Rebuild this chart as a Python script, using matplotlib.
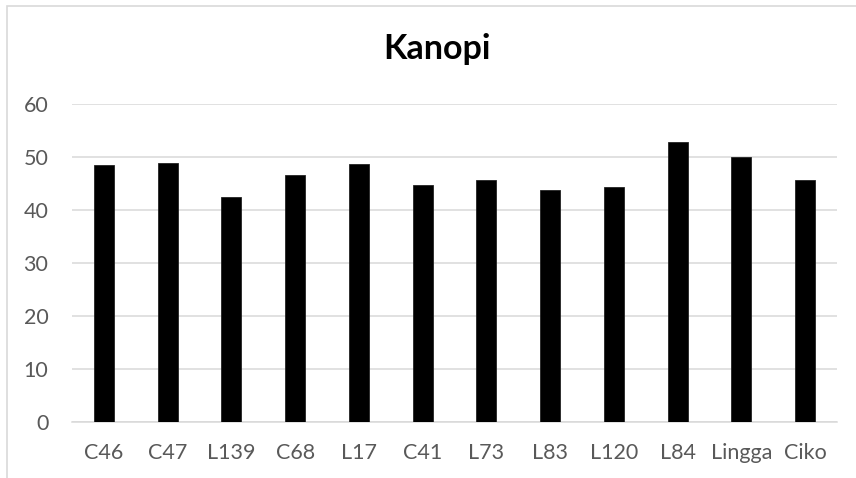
import matplotlib.pyplot as plt
import matplotlib.patches as mpatches
import numpy as np

plt.rcParams['font.family'] = ['Lato', 'DejaVu Sans']

categories = ["C46", "C47", "L139", "C68", "L17", "C41", "L73", "L83", "L120", "L84", "Lingga", "Ciko"]
kanopi = [48.5, 48.85, 42.4, 46.6, 48.7, 44.75, 45.7, 43.85, 44.35, 52.8, 50.0, 45.7]
yticks = [0, 10, 20, 30, 40, 50, 60]

fig = plt.figure(figsize=(8.56, 4.78), dpi=100)
ax = fig.add_axes([72 / 856, 1 - 421.7 / 478, 765 / 856, (421.7 - 104.3) / 478])

x = np.arange(len(categories))
ax.bar(x, kanopi, width=0.31, color="black", edgecolor="#222222", linewidth=0.6, zorder=3)

ax.set_xlim(-0.5, len(categories) - 0.5)
ax.set_ylim(0, 60)
ax.set_yticks(yticks)
ax.set_xticks(x)
ax.set_xticklabels(categories)
ax.grid(axis="y", color="#d9d9d9", linewidth=1.1, zorder=0)
ax.tick_params(axis="both", length=0, labelsize=15.5, colors="#595959")
ax.tick_params(axis="y", pad=17)
ax.tick_params(axis="x", pad=15)
for s in ["top", "right", "left"]:
    ax.spines[s].set_visible(False)
ax.spines["bottom"].set_color("#d9d9d9")
ax.spines["bottom"].set_linewidth(1.1)

fig.text(436.5 / 856, 1 - 49 / 478, "Kanopi", ha="center", va="center",
         fontsize=24.5, fontweight="bold", color="black")

# chart area border (runs off the right and bottom edges)
frame = mpatches.Rectangle((7 / 856, -0.1), 1.2, 1.1 - 6 / 478, transform=fig.transFigure,
                           fill=False, edgecolor="#d9d9d9", linewidth=1.2)
fig.patches.append(frame)

fig.savefig("out.png", dpi=100)
